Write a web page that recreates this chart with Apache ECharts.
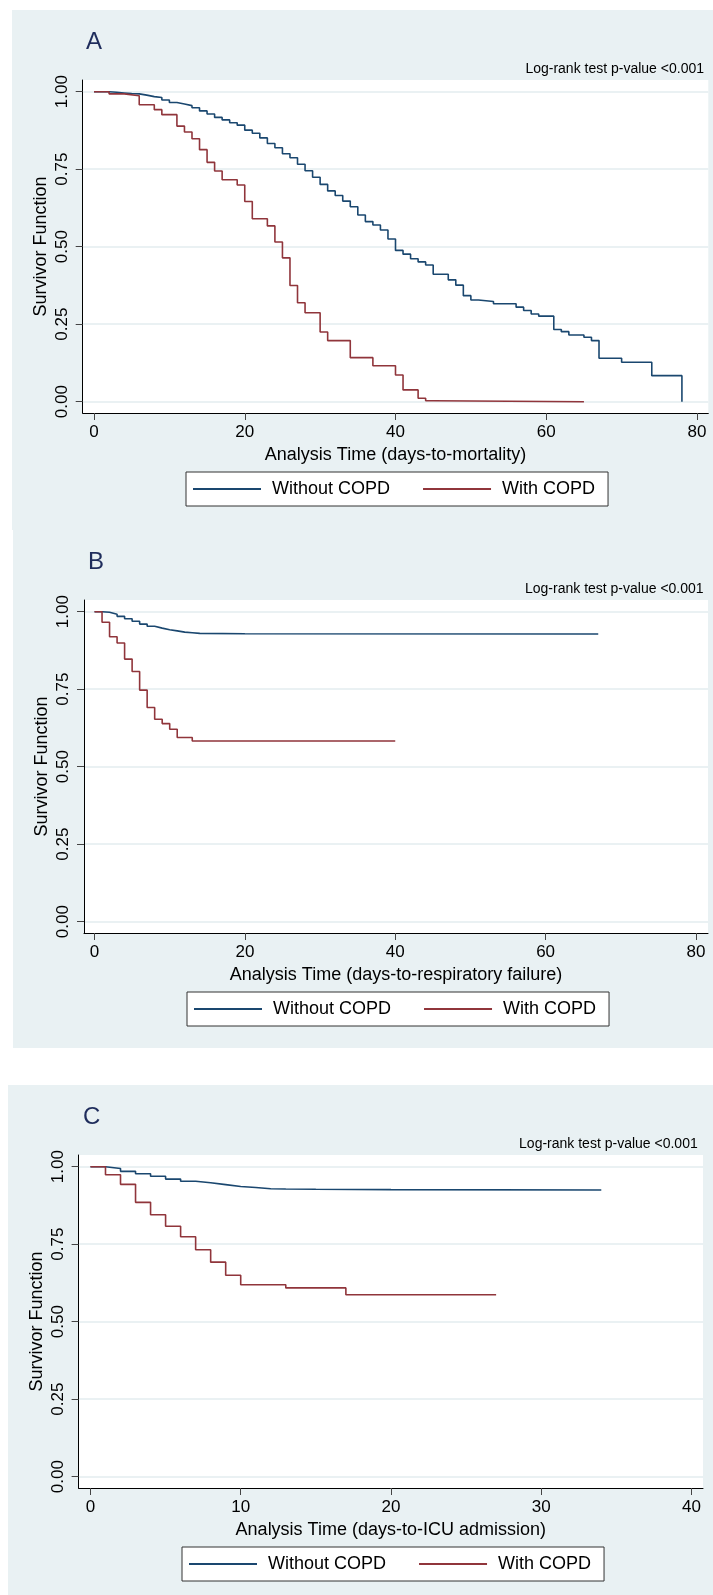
<!DOCTYPE html>
<html>
<head>
<meta charset="utf-8">
<script src="https://cdn.jsdelivr.net/npm/echarts@6/dist/echarts.min.js"></script>
<style>
  body { margin: 0; background: #ffffff; width: 713px; height: 1595px; position: relative; overflow: hidden; }
  .panel { position: absolute; background: #e9f1f3; }
</style>
</head>
<body>
<div id="chartA" class="panel" style="left:12px;top:10px;width:701px;height:520px"></div>
<div id="chartB" class="panel" style="left:13px;top:530px;width:700px;height:518px"></div>
<div id="chartC" class="panel" style="left:8px;top:1085px;width:705px;height:510px"></div>
<script>
// series names
const seriesNames = ["Without COPD", "With COPD"];
const yTicks = [0, 0.25, 0.5, 0.75, 1];
const xTicksAB = [0, 20, 40, 60, 80];
const xTicksC = [0, 10, 20, 30, 40];
const pvalueText = "Log-rank test p-value <0.001";

// A: days-to-mortality
const timeA_without = [0, 2, 3, 4, 5, 6, 7, 8, 9, 10, 11, 12, 13, 14, 15, 16, 17, 18, 19, 20, 21, 22, 23, 24, 25, 26, 27, 28, 29, 30, 31, 32, 33, 34, 35, 36, 37, 38, 39, 40, 41, 42, 43, 44, 45, 47, 48, 49, 50, 51, 53, 56, 57, 58, 59, 61, 62, 63, 65, 66, 67, 70, 74, 78];
const survA_without = [1, 0.998, 0.996, 0.994, 0.993, 0.989, 0.984, 0.981, 0.973, 0.965, 0.960, 0.955, 0.948, 0.938, 0.928, 0.917, 0.909, 0.900, 0.892, 0.876, 0.866, 0.851, 0.833, 0.819, 0.800, 0.787, 0.766, 0.745, 0.724, 0.701, 0.680, 0.665, 0.647, 0.629, 0.602, 0.581, 0.570, 0.554, 0.525, 0.488, 0.476, 0.461, 0.451, 0.441, 0.411, 0.393, 0.376, 0.342, 0.328, 0.323, 0.316, 0.305, 0.294, 0.283, 0.276, 0.233, 0.226, 0.215, 0.208, 0.197, 0.140, 0.127, 0.084, 0];
const timeA_with = [0, 2, 4, 6, 8, 9, 11, 12, 13, 14, 15, 16, 17, 19, 20, 21, 23, 24, 25, 26, 27, 28, 30, 31, 34, 37, 40, 41, 43, 44, 45, 65];
const survA_with = [1, 0.993, 0.987, 0.958, 0.942, 0.926, 0.889, 0.870, 0.848, 0.813, 0.772, 0.744, 0.716, 0.699, 0.646, 0.590, 0.567, 0.515, 0.464, 0.375, 0.319, 0.287, 0.225, 0.197, 0.142, 0.116, 0.086, 0.038, 0.011, 0.003, 0, 0];

// B: days-to-respiratory failure
const timeB_without = [0, 1, 2, 3, 4, 5, 6, 7, 8, 9, 10, 11, 12, 13, 14, 20, 67];
const survB_without = [1, 0.998, 0.992, 0.985, 0.977, 0.969, 0.960, 0.953, 0.947, 0.942, 0.938, 0.934, 0.932, 0.930, 0.929, 0.928, 0.928];
const timeB_with = [0, 1, 2, 3, 4, 5, 6, 7, 8, 9, 10, 11, 13, 40];
const survB_with = [1, 0.966, 0.919, 0.899, 0.847, 0.807, 0.747, 0.691, 0.653, 0.639, 0.621, 0.594, 0.583, 0.583];

// C: days-to-ICU admission
const timeC_without = [0, 1, 2, 3, 4, 5, 6, 7, 8, 9, 10, 11, 12, 13, 15, 20, 34];
const survC_without = [1, 0.994, 0.985, 0.977, 0.969, 0.960, 0.953, 0.948, 0.942, 0.936, 0.933, 0.929, 0.928, 0.927, 0.926, 0.925, 0.925];
const timeC_with = [0, 1, 2, 3, 4, 5, 6, 7, 8, 9, 10, 13, 17, 27];
const survC_with = [1, 0.974, 0.943, 0.885, 0.845, 0.808, 0.774, 0.732, 0.692, 0.650, 0.619, 0.609, 0.587, 0.587];

function pairs(t, s) {
  return t.map((v, i) => [v, s[i]]);
}

const FONT = '"Liberation Sans", Arial, Helvetica, sans-serif';

function initChart(id, cfg) {
  const chart = echarts.init(document.getElementById(id));
  chart.setOption({
    animation: false,
    color: ["#1a476f", "#90353b"],
    textStyle: { fontFamily: FONT },
    graphic: [
      {
        type: "text",
        style: { x: cfg.letterX, y: 32, text: cfg.letter, font: "24px " + FONT, fill: "#1f2d5c", verticalAlign: "middle" }
      },
      {
        type: "text",
        style: { x: cfg.pX, y: 59, text: pvalueText, font: "14px " + FONT, fill: "#000", align: "right", verticalAlign: "middle" }
      }
    ],
    grid: {
      show: true,
      backgroundColor: "#ffffff",
      borderWidth: 0,
      left: cfg.grid.left,
      top: 70,
      right: cfg.grid.right,
      height: 333
    },
    legend: {
      data: seriesNames,
      left: 174,
      top: 462,
      icon: "rect",
      itemWidth: 68,
      itemHeight: 2,
      itemGap: 33,
      padding: [7, 13, 7, 7],
      borderColor: "#333333",
      borderWidth: 1,
      backgroundColor: "#ffffff",
      textStyle: { fontSize: 18, color: "#000", lineHeight: 20, padding: [0, 0, 0, 6], fontFamily: FONT }
    },
    xAxis: {
      type: "value",
      min: cfg.xMin,
      max: cfg.xMax,
      name: cfg.xName,
      nameLocation: "middle",
      nameGap: 30,
      nameTextStyle: { fontSize: 18, color: "#000", fontFamily: FONT },
      axisLine: { show: true, onZero: false, lineStyle: { color: "#000", width: 1 } },
      axisTick: { show: true, length: 7, customValues: cfg.xTicks, lineStyle: { color: "#444" } },
      axisLabel: { customValues: cfg.xTicks, fontSize: 17, color: "#000", margin: 11, fontFamily: FONT },
      splitLine: { show: false }
    },
    yAxis: {
      type: "value",
      min: -0.0365,
      max: 1.0377,
      name: "Survivor Function",
      nameLocation: "middle",
      nameGap: 33,
      nameMoveOverlap: false,
      nameTextStyle: { fontSize: 18, color: "#000", fontFamily: FONT },
      axisLine: { show: true, onZero: false, lineStyle: { color: "#000", width: 1 } },
      axisTick: { show: true, length: 7, customValues: yTicks, lineStyle: { color: "#444" } },
      axisLabel: {
        customValues: yTicks,
        rotate: 90,
        fontSize: 17,
        color: "#000",
        margin: 12,
        fontFamily: FONT,
        formatter: v => v.toFixed(2)
      },
      splitLine: { show: true, lineStyle: { color: "#e3ecef", width: 1.5 } }
    },
    series: [
      {
        name: seriesNames[0],
        type: "line",
        step: "end",
        symbol: "none",
        lineStyle: { width: 1.6 },
        data: pairs(cfg.t0, cfg.s0)
      },
      {
        name: seriesNames[1],
        type: "line",
        step: "end",
        symbol: "none",
        lineStyle: { width: 1.6 },
        data: pairs(cfg.t1, cfg.s1)
      }
    ]
  });
  return chart;
}

initChart("chartA", {
  letter: "A", letterX: 74, pX: 692,
  grid: { left: 70.7, right: 4.7 },
  xMin: -1.5, xMax: 81.5, xTicks: xTicksAB,
  xName: "Analysis Time (days-to-mortality)",
  t0: timeA_without, s0: survA_without, t1: timeA_with, s1: survA_with
});
initChart("chartB", {
  letter: "B", letterX: 75, pX: 690.6,
  grid: { left: 71, right: 5 },
  xMin: -1.4, xMax: 81.6, xTicks: xTicksAB,
  xName: "Analysis Time (days-to-respiratory failure)",
  t0: timeB_without, s0: survB_without, t1: timeB_with, s1: survB_with
});
initChart("chartC", {
  letter: "C", letterX: 75, pX: 689.7,
  grid: { left: 70.6, right: 10 },
  xMin: -0.79, xMax: 40.77, xTicks: xTicksC,
  xName: "Analysis Time (days-to-ICU admission)",
  t0: timeC_without, s0: survC_without, t1: timeC_with, s1: survC_with
});
</script>
</body>
</html>
